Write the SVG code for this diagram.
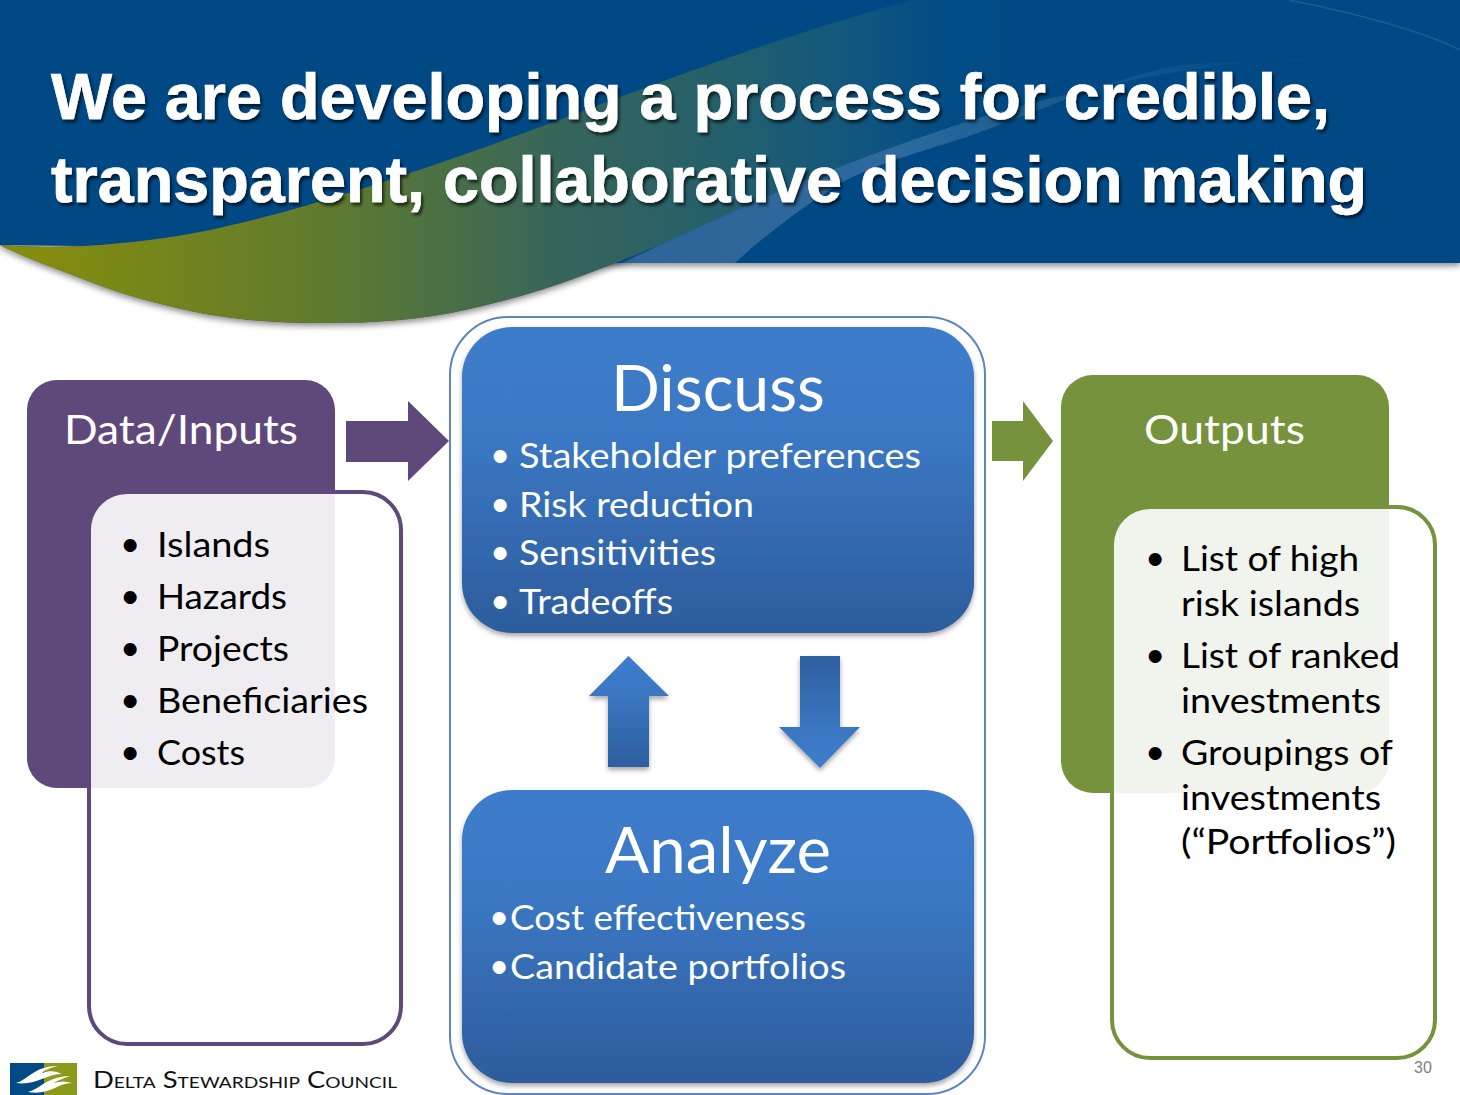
<svg xmlns="http://www.w3.org/2000/svg" width="1460" height="1095" viewBox="0 0 1460 1095">
<style>
text{font-family:"Lato","Carlito","Liberation Sans",sans-serif}
.title{font-family:"Liberation Sans",Arial,sans-serif;font-weight:700;font-size:64px;fill:#fff;stroke:#fff;stroke-width:.7px;filter:url(#ts)}
.head{fill:#fff;font-size:41px}
.big{fill:#fff;font-size:64px}
.w{fill:#fff;font-size:35px}
.k{fill:#000;font-size:35px}
.blue{fill:url(#gb);filter:url(#sh)}
</style>
<defs>
<linearGradient id="gb" x1="0" y1="0" x2="0" y2="1"><stop offset="0" stop-color="#3D7CCB"/><stop offset=".35" stop-color="#3B78C4"/><stop offset="1" stop-color="#2D5C9C"/></linearGradient>
<linearGradient id="gu" x1="0" y1="0" x2="0" y2="1"><stop offset="0" stop-color="#3D7CCB"/><stop offset=".3" stop-color="#3B78C4"/><stop offset="1" stop-color="#2E5F9F"/></linearGradient>
<linearGradient id="gd" x1="0" y1="1" x2="0" y2="0"><stop offset="0" stop-color="#3D7CCB"/><stop offset=".3" stop-color="#3B78C4"/><stop offset="1" stop-color="#2E5F9F"/></linearGradient>
<linearGradient id="gw" gradientUnits="userSpaceOnUse" x1="40" y1="0" x2="960" y2="0"><stop offset="0" stop-color="#848C0E"/><stop offset=".32" stop-color="#5E7A30"/><stop offset=".56" stop-color="#37655A"/><stop offset=".75" stop-color="#235F6C"/><stop offset=".9" stop-color="#0F5580"/><stop offset="1" stop-color="#004A85"/></linearGradient>
<linearGradient id="gl" gradientUnits="userSpaceOnUse" x1="620" y1="0" x2="1300" y2="0"><stop offset="0" stop-color="#2F6497"/><stop offset=".4" stop-color="#2E6A9E"/><stop offset=".65" stop-color="#165A8E"/><stop offset="1" stop-color="#004A85"/></linearGradient>
<filter id="ts" x="-5%" y="-20%" width="110%" height="140%"><feDropShadow dx="2" dy="3" stdDeviation="1.5" flood-color="#000" flood-opacity=".65"/></filter>
<filter id="sh" x="-10%" y="-10%" width="120%" height="120%"><feDropShadow dx="0" dy="3" stdDeviation="2.5" flood-color="#000" flood-opacity=".35"/></filter>
<filter id="bn" x="-2%" y="-5%" width="104%" height="115%"><feDropShadow dx="0" dy="3" stdDeviation="3" flood-color="#000" flood-opacity=".45"/></filter>
<path id="wave" d="M0,245C60,250 130,245 200,232C300,212 420,172 559,120C670,78 800,30 912,0H1000V110L963,123C880,150 790,185 730,213C690,232 655,248 615,263C560,285 520,298 465,310C420,320 375,323 326,323C280,323 235,321 186,310C150,302 125,295 93,283C55,268 25,258 0,245Z"/>
</defs>
<rect width="1460" height="1095" fill="#fff"/>
<g id="banner">
<use href="#wave" fill="#555" filter="url(#bn)"/>
<path d="M0,0H1460V263H615L400,250L0,245Z" fill="#004A85" filter="url(#bn)"/>
<use href="#wave" fill="url(#gw)"/>
<path d="M622,263C660,245 695,229 730,213C790,185 880,150 963,123C1060,92 1200,62 1289,60C1350,58 1410,62 1460,70C1400,64 1340,60 1289,62C1240,63 1190,60 1149,72C1090,88 1040,110 986,130C940,147 890,158 846,180C805,205 765,235 735,263Z" fill="url(#gl)"/>
<path d="M1289,0C1350,12 1420,30 1460,50" fill="none" stroke="#2A6C9F" stroke-width="1.5" opacity=".6"/>
<text class="title" x="51" y="119" textLength="1279" lengthAdjust="spacingAndGlyphs">We are developing a process for credible,</text>
<text class="title" x="51" y="202" textLength="1316" lengthAdjust="spacingAndGlyphs">transparent, collaborative decision making</text>
</g>
<g id="frame"><rect x="450" y="317" width="535" height="777" rx="58" fill="#fff" stroke="#5B86BE" stroke-width="2"/></g>
<g id="discuss">
<rect class="blue" x="462" y="327" width="512" height="306" rx="50"/>
<text class="big" x="611" y="411" textLength="214" lengthAdjust="spacingAndGlyphs">Discuss</text>
<text class="w" x="490" y="467">•</text><text class="w" x="519" y="468" textLength="402" lengthAdjust="spacingAndGlyphs">Stakeholder preferences</text>
<text class="w" x="490" y="516">•</text><text class="w" x="519" y="517" textLength="235" lengthAdjust="spacingAndGlyphs">Risk reduction</text>
<text class="w" x="490" y="564">•</text><text class="w" x="519" y="565" textLength="197" lengthAdjust="spacingAndGlyphs">Sensitivities</text>
<text class="w" x="490" y="613">•</text><text class="w" x="519" y="614" textLength="154" lengthAdjust="spacingAndGlyphs">Tradeoffs</text>
</g>
<g id="analyze">
<rect class="blue" x="462" y="790" width="512" height="293" rx="50"/>
<text class="big" x="605" y="873" textLength="226" lengthAdjust="spacingAndGlyphs">Analyze</text>
<text class="w" x="489" y="929">•</text><text class="w" x="510" y="930" textLength="296" lengthAdjust="spacingAndGlyphs">Cost effectiveness</text>
<text class="w" x="489" y="978">•</text><text class="w" x="510" y="979" textLength="336" lengthAdjust="spacingAndGlyphs">Candidate portfolios</text>
</g>
<g id="data-inputs">
<rect x="27" y="380" width="308" height="408" rx="30" fill="#5F497A"/>
<text class="head" x="64" y="444" textLength="234" lengthAdjust="spacingAndGlyphs">Data/Inputs</text>
<rect x="89" y="492" width="312" height="552" rx="38" fill="#fff" fill-opacity=".9" stroke="#5F497A" stroke-width="4"/>
<text class="k" x="120" y="556">•</text><text class="k" x="157" y="557" textLength="113" lengthAdjust="spacingAndGlyphs">Islands</text>
<text class="k" x="120" y="608">•</text><text class="k" x="157" y="609" textLength="130" lengthAdjust="spacingAndGlyphs">Hazards</text>
<text class="k" x="120" y="660">•</text><text class="k" x="157" y="661" textLength="132" lengthAdjust="spacingAndGlyphs">Projects</text>
<text class="k" x="120" y="712">•</text><text class="k" x="157" y="713" textLength="211" lengthAdjust="spacingAndGlyphs">Beneficiaries</text>
<text class="k" x="120" y="764">•</text><text class="k" x="157" y="765" textLength="88" lengthAdjust="spacingAndGlyphs">Costs</text>
</g>
<g id="outputs">
<rect x="1061" y="375" width="328" height="418" rx="32" fill="#76923C"/>
<text class="head" x="1144" y="444" textLength="161" lengthAdjust="spacingAndGlyphs">Outputs</text>
<rect x="1112" y="507" width="323" height="551" rx="38" fill="#fff" fill-opacity=".9" stroke="#76923C" stroke-width="4"/>
<text class="k" x="1145" y="570">•</text><text class="k" x="1181" y="571" textLength="178" lengthAdjust="spacingAndGlyphs">List of high</text>
<text class="k" x="1181" y="616" textLength="179" lengthAdjust="spacingAndGlyphs">risk islands</text>
<text class="k" x="1145" y="667">•</text><text class="k" x="1181" y="668" textLength="219" lengthAdjust="spacingAndGlyphs">List of ranked</text>
<text class="k" x="1181" y="713" textLength="200" lengthAdjust="spacingAndGlyphs">investments</text>
<text class="k" x="1145" y="764">•</text><text class="k" x="1181" y="765" textLength="212" lengthAdjust="spacingAndGlyphs">Groupings of</text>
<text class="k" x="1181" y="810" textLength="200" lengthAdjust="spacingAndGlyphs">investments</text>
<text class="k" x="1181" y="854" textLength="215" lengthAdjust="spacingAndGlyphs">(“Portfolios”)</text>
</g>
<g id="connectors">
<path d="M346,421H408V401L449,441L408,481V462H346Z" fill="#5F497A"/>
<path d="M992,421H1023V401L1053,441L1023,481V461H992Z" fill="#76923C"/>
<path d="M628.5,656L669,696H649V767H608V696H589Z" fill="url(#gu)" filter="url(#sh)"/>
<path d="M800,656H840V727H860L820,768L779,727H800Z" fill="url(#gd)" filter="url(#sh)"/>
</g>
<g id="logo">
<rect x="10" y="1063" width="34" height="32" fill="#004A85"/>
<rect x="44" y="1063" width="33" height="32" fill="#8B9A1B"/>
<path d="M16,1083C28,1080 34,1066 58,1066C50,1068 44,1070 42,1073C50,1070 56,1071 62,1074C48,1073 36,1086 16,1083Z" fill="#fff"/>
<path d="M28,1092C40,1089 46,1077 70,1076C62,1079 56,1081 54,1083C60,1081 66,1081 72,1083C58,1083 48,1096 28,1092Z" fill="#fff"/>
<text x="93" y="1088" font-size="23" fill="#111" style="font-variant:small-caps" textLength="304" lengthAdjust="spacingAndGlyphs">Delta Stewardship Council</text>
</g>
<text id="page" x="1414" y="1073" font-size="16" fill="#7F7F7F" style="font-family:'Liberation Sans',sans-serif">30</text>
</svg>
